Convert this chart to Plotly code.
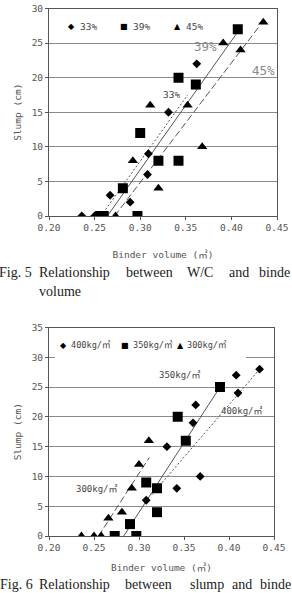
import plotly.graph_objects as go

W, H = 292, 593

# ---------------- data: Fig. 5 ----------------
f5_x33 = [0.362, 0.331, 0.309, 0.308, 0.289, 0.267, 0.236, 0.250]
f5_y33 = [22, 15, 9, 6, 2, 3, 0, 0]
f5_x39 = [0.407, 0.342, 0.361, 0.300, 0.320, 0.342, 0.281, 0.256, 0.260, 0.297]
f5_y39 = [27, 20, 19, 12, 8, 8, 4, 0, 0, 0]
f5_x45 = [0.435, 0.391, 0.410, 0.311, 0.352, 0.368, 0.292, 0.320, 0.273]
f5_y45 = [28, 25, 24, 16, 16, 10, 8, 4, 0]
f5_t33_x = [0.257, 0.352]
f5_t33_y = [0, 17.5]
f5_t39_x = [0.264, 0.409]
f5_t39_y = [0, 27]
f5_t45_x = [0.272, 0.431]
f5_t45_y = [0, 27.5]

# ---------------- data: Fig. 6 ----------------
f6_x400 = [0.434, 0.408, 0.410, 0.363, 0.360, 0.331, 0.368, 0.342, 0.308]
f6_y400 = [28, 27, 24, 22, 19, 15, 10, 8, 6]
f6_x350 = [0.390, 0.343, 0.352, 0.308, 0.320, 0.320, 0.290, 0.273, 0.297]
f6_y350 = [25, 20, 16, 9, 8, 4, 2, 0, 0]
f6_x300 = [0.311, 0.300, 0.292, 0.281, 0.266, 0.236, 0.250, 0.258]
f6_y300 = [16, 12, 8, 4, 3, 0, 0, 0]
f6_t400_x = [0.314, 0.434]
f6_t400_y = [6.9, 28]
f6_t350_x = [0.283, 0.390]
f6_t350_y = [0, 25]
f6_t300_x = [0.255, 0.3115]
f6_t300_y = [0, 13.2]

x_ticks = [0.20, 0.25, 0.30, 0.35, 0.40, 0.45]
x_ticklabels = ["0.20", "0.25", "0.30", "0.35", "0.40", "0.45"]
f5_legend = ["33%", "39%", "45%"]
f6_legend = ["400kg/㎥", "350kg/㎥", "300kg/㎥"]

MONO = "DejaVu Sans Mono, Noto Sans CJK KR, monospace"
SERIF = "Liberation Serif, DejaVu Serif, serif"
TXT = "#444444"
LINE = "#555555"

fig = go.Figure()

def add_points(x, y, sym, size, xa, ya):
    fig.add_trace(go.Scatter(x=x, y=y, mode="markers", xaxis=xa, yaxis=ya,
                             marker=dict(symbol=sym, size=size, color="black"),
                             showlegend=False, hoverinfo="skip"))

def add_line(x, y, dash, xa, ya, color=LINE, width=1):
    fig.add_trace(go.Scatter(x=x, y=y, mode="lines", xaxis=xa, yaxis=ya,
                             line=dict(color=color, width=width, dash=dash),
                             showlegend=False, hoverinfo="skip"))

# Fig. 5
add_line(f5_t33_x, f5_t33_y, "2px,2px", "x", "y")
add_line(f5_t39_x, f5_t39_y, "solid", "x", "y")
add_line(f5_t45_x, f5_t45_y, "7px,3px", "x", "y")
add_points(f5_x33, f5_y33, "diamond", 6.8, "x", "y")
add_points(f5_x39, f5_y39, "square", 10, "x", "y")
add_points(f5_x45, f5_y45, "triangle-up", 9, "x", "y")

# Fig. 6
add_line(f6_t400_x, f6_t400_y, "2px,2px", "x2", "y2")
add_line(f6_t350_x, f6_t350_y, "solid", "x2", "y2")
add_line(f6_t300_x, f6_t300_y, "7px,3px", "x2", "y2")
add_points(f6_x400, f6_y400, "diamond", 6.8, "x2", "y2")
add_points(f6_x350, f6_y350, "square", 10, "x2", "y2")
add_points(f6_x300, f6_y300, "triangle-up", 9, "x2", "y2")

def px(v):
    return v / W

def py(v):
    return 1 - v / H

xaxis_common = dict(range=[0.20, 0.45], tickvals=x_ticks, ticktext=x_ticklabels,
                    showgrid=False, zeroline=False, showline=True, linecolor=LINE,
                    linewidth=1, mirror=True, ticks="outside", ticklen=3,
                    tickcolor=LINE, tickfont=dict(family=MONO, size=9.5, color="#555"),
                    automargin=False)
yaxis_common = dict(showgrid=True, gridcolor="#8a8a8a", gridwidth=1, zeroline=False,
                    showline=True, linecolor=LINE, linewidth=1, mirror=True,
                    ticks="outside", ticklen=3, tickcolor=LINE,
                    tickfont=dict(family=MONO, size=9.5, color="#555"),
                    automargin=False, dtick=5)

fig.update_layout(
    width=W, height=H, margin=dict(l=0, r=0, t=0, b=0),
    paper_bgcolor="white", plot_bgcolor="white", showlegend=False,
    xaxis=dict(domain=[px(49), px(277)], anchor="y",
               title=dict(text="Binder volume (㎥)", standoff=18,
                          font=dict(family=MONO, size=9.5, color="#555")),
               **xaxis_common),
    yaxis=dict(domain=[py(216), py(8.5)], anchor="x", range=[0, 30],
               title=dict(text="Slump (cm)", standoff=8,
                          font=dict(family=MONO, size=9.5, color="#555")),
               **yaxis_common),
    xaxis2=dict(domain=[px(49), px(274)], anchor="y2",
                title=dict(text="Binder volume (㎥)", standoff=11,
                           font=dict(family=MONO, size=9.5, color="#555")),
                **xaxis_common),
    yaxis2=dict(domain=[py(536), py(327.5)], anchor="x2", range=[0, 35],
                title=dict(text="Slump (cm)", standoff=8,
                           font=dict(family=MONO, size=9.5, color="#555")),
                **yaxis_common),
)

# white legend box over Fig. 6 gridline
fig.add_shape(type="rect", xref="paper", yref="paper",
              x0=px(55), x1=px(246), y0=py(361), y1=py(332),
              fillcolor="white", line=dict(width=0), layer="above")

ann = []
# line labels Fig. 5
ann.append(dict(x=0.3711, y=24.5, xref="x", yref="y", text="39%", showarrow=False,
                font=dict(family=MONO, size=12.5, color="#8a8a8a")))
ann.append(dict(x=0.435, y=21.0, xref="x", yref="y", text="45%", showarrow=False,
                font=dict(family=MONO, size=12.5, color="#8a8a8a")))
ann.append(dict(x=0.3345, y=17.5, xref="x", yref="y", text="33%", showarrow=False,
                font=dict(family=MONO, size=9.5, color=TXT)))
# line labels Fig. 6
ann.append(dict(x=0.3456, y=27.1, xref="x2", yref="y2", text=f6_legend[1], showarrow=False,
                font=dict(family=MONO, size=9, color=TXT)))
ann.append(dict(x=0.4141, y=21.0, xref="x2", yref="y2", text=f6_legend[0], showarrow=False,
                font=dict(family=MONO, size=9, color=TXT)))
ann.append(dict(x=0.253, y=7.95, xref="x2", yref="y2", text=f6_legend[2], showarrow=False,
                font=dict(family=MONO, size=9, color=TXT)))

# legends (manual)
def legend_row(ypx, marks, labels, mx, tx, msize, fsize):
    for m, lab, a, b in zip(marks, labels, mx, tx):
        ann.append(dict(x=px(a), y=py(ypx), xref="paper", yref="paper", text=m,
                        showarrow=False, xanchor="center", yanchor="middle",
                        font=dict(family="DejaVu Sans", size=msize, color="black")))
        ann.append(dict(x=px(b), y=py(ypx), xref="paper", yref="paper", text=lab,
                        showarrow=False, xanchor="left", yanchor="middle",
                        font=dict(family=MONO, size=fsize, color=TXT)))

legend_row(27, ["◆", "■", "▲"], f5_legend, [71, 124, 177], [78, 131, 184], 8, 9.5)
legend_row(345, ["◆", "■", "▲"], f6_legend, [63, 125, 180], [68.5, 130.5, 185], 8, 8.6)

# captions
def caption(words, xs, ypx):
    for w, x in zip(words, xs):
        ann.append(dict(x=px(x), y=py(ypx), xref="paper", yref="paper", text=w,
                        showarrow=False, xanchor="left", yanchor="middle",
                        font=dict(family=SERIF, size=14, color="#222")))

caption(["Fig. 5", "Relationship", "between", "W/C", "and", "binde"],
        [-3, 37, 124, 185, 227, 257], 273)
caption(["volume"], [37], 291)
caption(["Fig. 6", "Relationship", "between", "slump", "and", "binde"],
        [-2, 37, 123, 188, 230, 258], 584)

fig.update_layout(annotations=ann)

fig.write_html("out.html")
